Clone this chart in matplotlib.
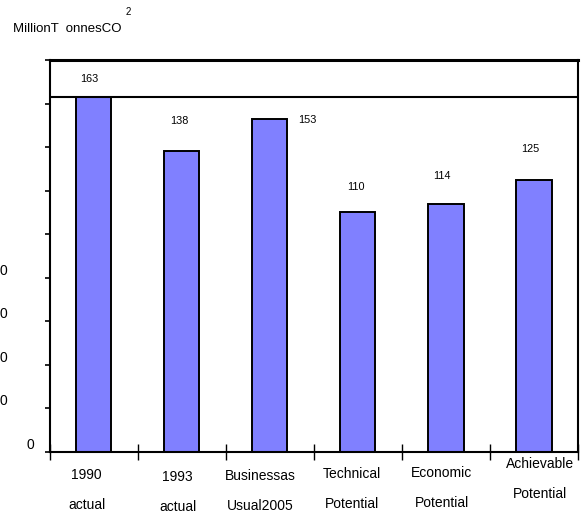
import numpy as np
import matplotlib.pyplot as plt

plt.rcParams['font.family'] = ['Liberation Sans', 'DejaVu Sans']

categories = ['1990\nactual', '1993\nactual', 'Businessas\nUsual2005',
              'Technical\nPotential', 'Economic\nPotential', 'Achievable\nPotential']
emissions = [163, 138, 153, 110, 114, 125]
baseline = 163
y_ticks = [0, 20, 40, 60, 80, 100, 120, 140, 160, 180]
# only the trailing digit of the lower labels fits at the figure edge
y_labels = ['0', '0', '0', '0', '0', '', '', '', '', '']

# offsets (pixels) for value labels relative to bar tops
value_offsets = [(-4, 18), (-2, 30), (38, -1), (-2, 25), (-4, 28), (-4, 31)]
# offsets (pixels) for the category labels
cat_offsets = [(-7, 0), (-4, -2), (-10, -1), (-6, 1), (-4, 2), (6, 11)]

fig = plt.figure(figsize=(5.84, 5.23), dpi=100)
ax = fig.add_axes([49.7 / 584, 71 / 523, (578 - 49.7) / 584, (452 - 60) / 523])

x = np.arange(len(categories)) + 0.5
ax.bar(x, emissions, width=0.4, color='#8080FF', edgecolor='black', linewidth=1.4, zorder=2)
ax.axhline(baseline, color='black', linewidth=1.5, zorder=3)

ax.set_xlim(0, len(categories))
ax.set_ylim(0, 180)

for side in ['left', 'bottom', 'top', 'right']:
    ax.spines[side].set_linewidth(1.5)
ax.spines['top'].set_linewidth(2.2)

ax.set_xticks(np.arange(len(categories) + 1))
ax.set_xticklabels([])
ax.tick_params(axis='x', direction='inout', length=11.5, width=1.0, color='black')

ax.set_yticks(y_ticks)
ax.set_yticklabels([])
ax.tick_params(axis='y', direction='out', length=3.6, width=1.2)

# y-axis numbers sit a little above their ticks
for val, lab in zip(y_ticks, y_labels):
    if not lab:
        continue
    dx = -15 if val == 0 else -42
    ax.annotate(lab, xy=(0, val), xycoords=('axes fraction', 'data'),
                xytext=(dx, 7), textcoords='offset pixels',
                ha='right', va='center', fontsize=10, annotation_clip=False)

for xi, val, (dx, dy) in zip(x, emissions, value_offsets):
    ax.annotate(str(val), xy=(xi, val), xytext=(dx, dy), textcoords='offset pixels',
                ha='center', va='center', fontsize=7.8, annotation_clip=False)

for xi, lab, (dx, dy) in zip(x, categories, cat_offsets):
    ax.annotate(lab, xy=(xi, 0), xycoords=('data', 'axes fraction'),
                xytext=(dx, -16 + dy), textcoords='offset pixels',
                ha='center', va='top', fontsize=10, linespacing=2.45,
                annotation_clip=False)

fig.text(12.7 / 584, 1 - 29 / 523, 'MillionT  onnesCO', fontsize=9.5, ha='left', va='center')
fig.text(128 / 584, 1 - 12 / 523, '2', fontsize=7, ha='center', va='center')

fig.savefig('out.png', dpi=100)
